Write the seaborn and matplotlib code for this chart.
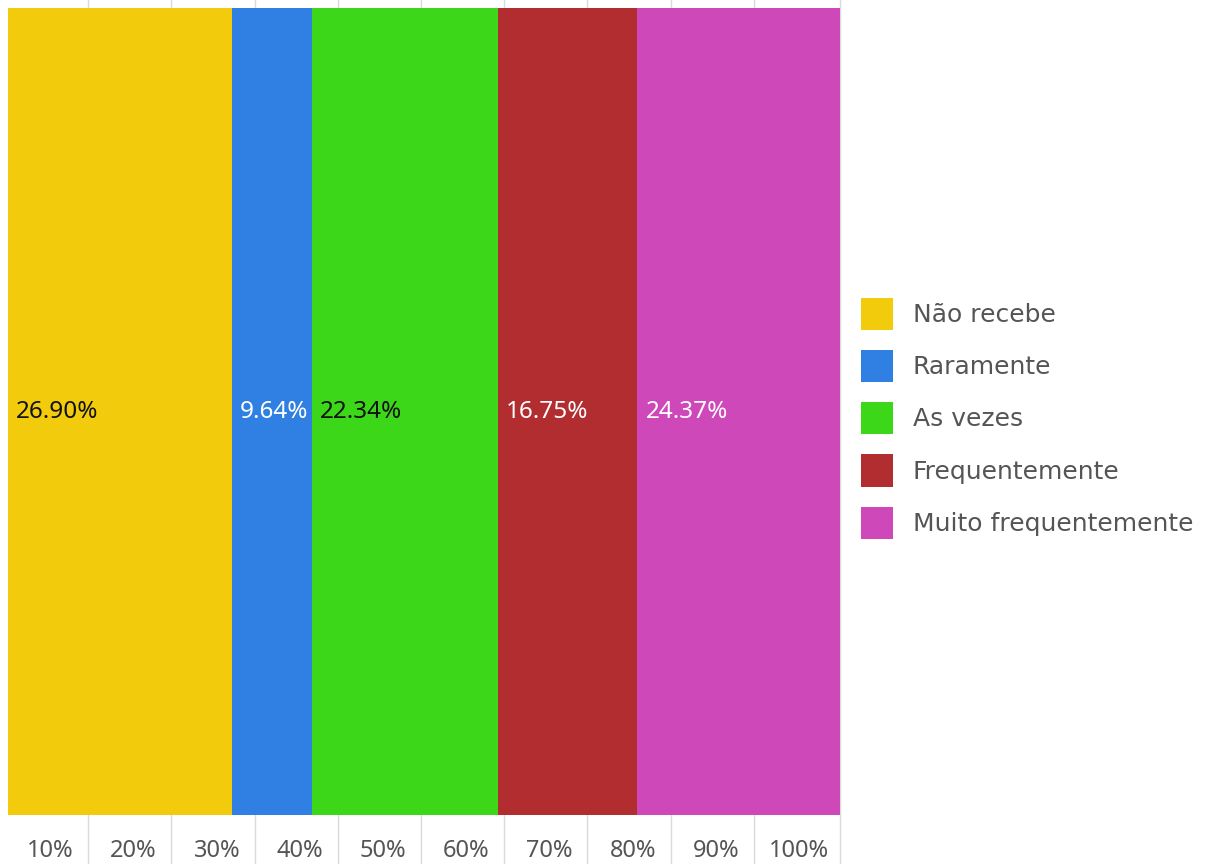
import matplotlib
matplotlib.use("Agg")
import matplotlib.pyplot as plt
from matplotlib.patches import Patch
import numpy as np
import pandas as pd
import seaborn as sns

# Response shares (percent) for the single stacked row
categories = ["Não recebe", "Raramente", "As vezes", "Frequentemente", "Muito frequentemente"]
shares = [26.90, 9.64, 22.34, 16.75, 24.37]
segment_colors = ["#F2CC0C", "#2F80E2", "#3CD718", "#B22D30", "#CE48B9"]
value_text_colors = ["#111111", "#FFFFFF", "#111111", "#FFFFFF", "#FFFFFF"]

# Axis ticks
tick_values = [10, 20, 30, 40, 50, 60, 70, 80, 90, 100]
tick_labels = ["10%", "20%", "30%", "40%", "50%", "60%", "70%", "80%", "90%", "100%"]

sns.set_theme(style="white")
plt.rcParams["font.family"] = ["Noto Sans", "DejaVu Sans"]

W, H = 1209, 864
fig = plt.figure(figsize=(W / 100, H / 100), dpi=100)
ax = fig.add_axes([8 / W, 49 / H, 832 / W, 807 / H])

ends = np.cumsum(shares)
starts = ends - np.array(shares)
df = pd.DataFrame({"category": categories, "end": ends, "row": [""] * len(categories)})

# Stack by drawing cumulative totals from the widest to the narrowest
for i in reversed(range(len(categories))):
    sns.barplot(data=df.iloc[[i]], x="end", y="row", orient="h",
                color=segment_colors[i], saturation=1, width=1.0,
                linewidth=0, ax=ax, zorder=2)

ax.set_xlim(0, 100)
ax.set_ylim(0.5, -0.5)

# Vertical grid lines running past the plot area
for v in tick_values:
    ax.axvline(v - 0.35 if v < 100 else v, ymin=-0.065, ymax=1.02,
               color="#DADADA", lw=1.0, zorder=0, clip_on=False)

# Value labels inside each segment
for s, val, tc in zip(starts, shares, value_text_colors):
    ax.text(s + 1.0, 0, f"{val:.2f}%", ha="left", va="center",
            color=tc, fontsize=17.5, zorder=3)

# Tick labels sit inside each 10% band
ax.set_xticks([v - 4.9 for v in tick_values])
ax.set_xticklabels(tick_labels, color="#555555", fontsize=17)
ax.tick_params(axis="x", length=0, pad=17)
ax.set_yticks([])
ax.set_xlabel("")
ax.set_ylabel("")
for sp in ax.spines.values():
    sp.set_visible(False)

handles = [Patch(facecolor=c, edgecolor="none") for c in segment_colors]
leg = fig.legend(handles, categories, loc="upper left",
                 bbox_to_anchor=(861 / W, 1 - 298 / H), frameon=False,
                 fontsize=18, handlelength=1.28, handleheight=1.6,
                 handletextpad=0.8, labelspacing=0.8, borderpad=0,
                 borderaxespad=0)
for t in leg.get_texts():
    t.set_color("#555555")
    t.set_family(["DejaVu Sans"])

fig.savefig("out.png", dpi=100)
